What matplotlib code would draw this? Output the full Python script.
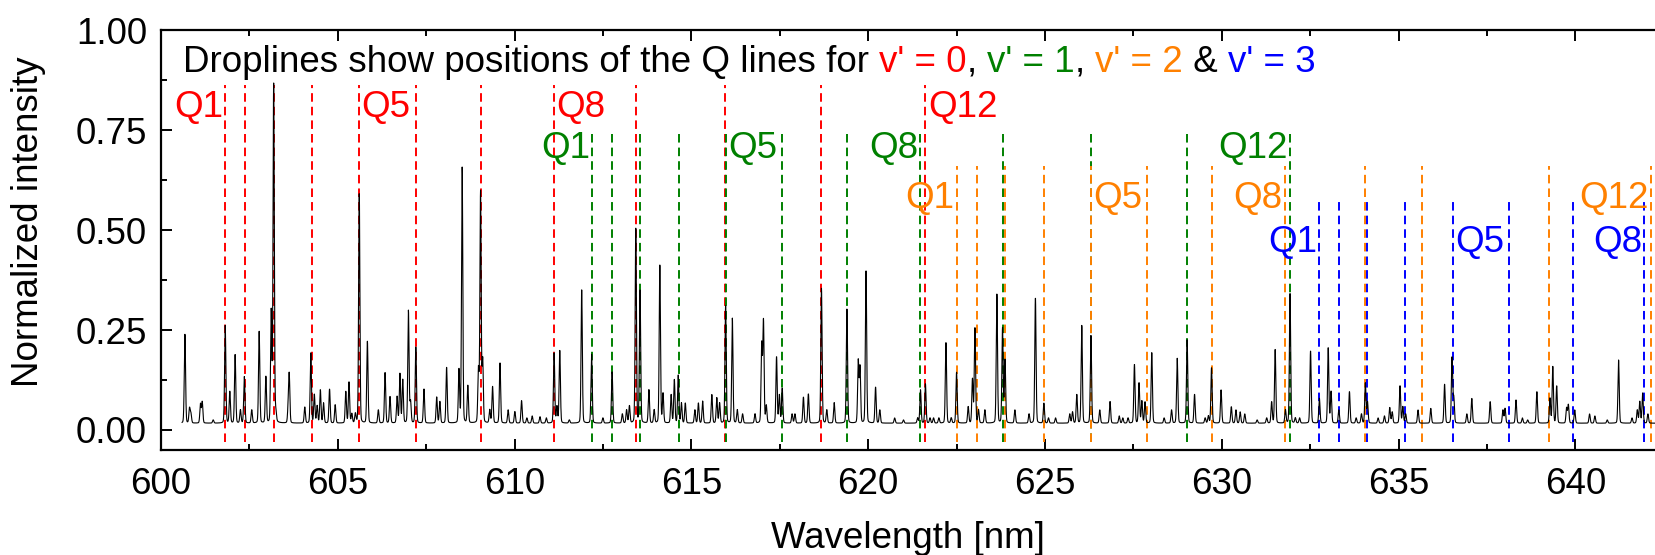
import numpy as np
import matplotlib
matplotlib.use('Agg')
import matplotlib.pyplot as plt
from matplotlib.ticker import MultipleLocator, FormatStrFormatter

plt.rcParams['font.family'] = ['Liberation Sans', 'DejaVu Sans']

# --- spectrum: peak positions [nm] and peak heights ---
peak_nm = [600.68, 600.81, 600.85, 601.12, 601.17, 601.48, 601.82, 601.95, 602.10, 602.25,
           602.36, 602.57, 602.78, 602.97, 603.12, 603.19, 603.25, 603.60, 603.63, 604.07,
           604.24, 604.34, 604.42, 604.51, 604.60, 604.77, 604.93, 605.23, 605.32, 605.40,
           605.50, 605.61, 605.84, 606.15, 606.34, 606.48, 606.68, 606.76, 606.84, 607.00,
           607.06, 607.21, 607.44, 607.80, 607.89, 608.08, 608.43, 608.52, 608.68, 608.98,
           609.04, 609.10, 609.30, 609.38, 609.59, 609.82, 610.01, 610.20, 610.35, 610.50,
           610.72, 610.90, 611.12, 611.20, 611.28, 611.55, 611.90, 612.18, 612.50, 612.76,
           613.05, 613.17, 613.25, 613.43, 613.55, 613.80, 613.95, 614.11, 614.20, 614.43,
           614.52, 614.63, 614.72, 614.83, 615.10, 615.20, 615.32, 615.58, 615.72, 615.80,
           615.97, 616.16, 616.30, 616.45, 616.80, 616.99, 617.04, 617.12, 617.41, 617.49,
           617.57, 617.85, 617.93, 618.17, 618.31, 618.68, 618.83, 619.04, 619.40, 619.72,
           619.77, 619.94, 620.21, 620.33, 620.75, 621.00, 621.40, 621.48, 621.62, 621.75,
           621.85, 622.00, 622.20, 622.35, 622.50, 622.83, 622.95, 623.02, 623.12, 623.30,
           623.64, 623.80, 623.87, 624.15, 624.55, 624.73, 624.97, 625.10, 625.30, 625.70,
           625.78, 625.90, 626.04, 626.30, 626.55, 626.84, 627.10, 627.20, 627.35, 627.53,
           627.66, 627.74, 627.83, 628.02, 628.37, 628.58, 628.74, 629.02, 629.23, 629.53,
           629.62, 629.71, 629.98, 630.27, 630.40, 630.52, 630.65, 631.00, 631.27, 631.41,
           631.51, 631.80, 631.93, 632.08, 632.20, 632.51, 632.76, 633.01, 633.09, 633.31,
           633.61, 633.80, 633.95, 634.06, 634.12, 634.42, 634.60, 634.75, 634.82, 635.04,
           635.12, 635.20, 635.55, 635.91, 636.30, 636.51, 636.56, 636.93, 637.07, 637.59,
           637.95, 638.01, 638.32, 638.50, 638.65, 638.91, 639.28, 639.36, 639.47, 639.75,
           639.80, 639.98, 640.40, 640.55, 640.90, 641.22, 641.60, 641.75, 641.82, 641.90,
           642.05]
peak_int = [0.239, 0.054, 0.040, 0.065, 0.070, 0.025, 0.261, 0.096, 0.188, 0.050,
            0.133, 0.050, 0.246, 0.133, 0.294, 0.869, 0.040, 0.050, 0.135, 0.057,
            0.192, 0.088, 0.060, 0.100, 0.067, 0.102, 0.063, 0.096, 0.119, 0.040,
            0.040, 0.594, 0.221, 0.050, 0.143, 0.083, 0.083, 0.140, 0.125, 0.298,
            0.070, 0.208, 0.102, 0.082, 0.071, 0.156, 0.150, 0.656, 0.110, 0.150,
            0.594, 0.172, 0.050, 0.108, 0.168, 0.050, 0.046, 0.073, 0.030, 0.035,
            0.033, 0.030, 0.192, 0.058, 0.198, 0.025, 0.350, 0.189, 0.030, 0.145,
            0.040, 0.050, 0.060, 0.506, 0.350, 0.100, 0.050, 0.414, 0.090, 0.088,
            0.125, 0.137, 0.067, 0.067, 0.050, 0.067, 0.072, 0.088, 0.080, 0.067,
            0.312, 0.279, 0.050, 0.040, 0.040, 0.212, 0.271, 0.060, 0.183, 0.087,
            0.104, 0.040, 0.040, 0.082, 0.090, 0.354, 0.050, 0.068, 0.302, 0.172,
            0.156, 0.397, 0.107, 0.050, 0.030, 0.025, 0.030, 0.100, 0.115, 0.030,
            0.030, 0.030, 0.218, 0.030, 0.144, 0.058, 0.127, 0.254, 0.050, 0.050,
            0.339, 0.254, 0.175, 0.050, 0.040, 0.331, 0.067, 0.030, 0.030, 0.040,
            0.045, 0.088, 0.261, 0.236, 0.050, 0.071, 0.035, 0.030, 0.030, 0.164,
            0.117, 0.072, 0.070, 0.193, 0.030, 0.050, 0.179, 0.225, 0.089, 0.030,
            0.035, 0.156, 0.100, 0.058, 0.050, 0.045, 0.040, 0.025, 0.030, 0.070,
            0.202, 0.050, 0.343, 0.030, 0.030, 0.198, 0.079, 0.206, 0.096, 0.050,
            0.096, 0.030, 0.040, 0.117, 0.070, 0.030, 0.035, 0.056, 0.045, 0.110,
            0.058, 0.040, 0.050, 0.054, 0.114, 0.181, 0.080, 0.040, 0.079, 0.071,
            0.050, 0.054, 0.075, 0.030, 0.025, 0.096, 0.079, 0.158, 0.110, 0.055,
            0.063, 0.050, 0.040, 0.035, 0.025, 0.175, 0.030, 0.050, 0.071, 0.092,
            0.040]
baseline = 0.017
line_sigma = 0.018   # nm, gaussian core
line_hwhm = 0.02     # nm, lorentzian wings
wing_frac = 0.15

# --- Q-line positions [nm] for each upper vibrational level ---
q_v0 = [601.82, 602.38, 603.19, 604.27, 605.61, 607.21, 609.04, 611.12, 613.43, 615.96, 618.68, 621.62]
q_v1 = [612.20, 612.75, 613.56, 614.65, 615.98, 617.57, 619.41, 621.48, 623.80, 626.30, 629.02, 631.94]
q_v2 = [622.51, 623.07, 623.87, 624.97, 626.30, 627.89, 629.72, 631.79, 634.06, 635.66, 639.26, 642.15]
q_v3 = [632.76, 633.31, 634.11, 635.19, 636.53, 638.11, 639.92, 641.95]
drop_top = [0.862, 0.752, 0.660, 0.571]
label_y = [0.807, 0.704, 0.578, 0.469]
colors = ['#ff0000', '#008000', '#ff8000', '#0000ff']
# which Q labels are shown, and on which side of the dropline
q_labels = [[(1, 'left'), (5, 'right'), (8, 'right'), (12, 'right')],
            [(1, 'left'), (5, 'right'), (8, 'left'), (12, 'left')],
            [(1, 'left'), (5, 'right'), (8, 'left'), (12, 'left')],
            [(1, 'left'), (5, 'right'), (8, 'left')]]

# build spectrum from the peak list
wl = np.arange(600.6, 642.4, 0.004)
spec = np.full_like(wl, baseline)
for x0, h in zip(peak_nm, peak_int):
    d = wl - x0
    shape = (1 - wing_frac) * np.exp(-d**2 / (2 * line_sigma**2)) \
        + wing_frac * line_hwhm**2 / (d**2 + line_hwhm**2)
    spec += (h - baseline) * shape

fs = 26.5
fig = plt.figure(figsize=(16.55, 5.55), dpi=100)
ax = fig.add_axes([0.0972, 0.1892, 0.9028, 0.7567])

ax.plot(wl, spec, color='black', lw=0.8, zorder=3)

for lines, top, ly, col, labs in zip([q_v0, q_v1, q_v2, q_v3], drop_top, label_y, colors, q_labels):
    for x in lines:
        ax.plot([x, x], [-0.03, top], color=col, lw=1.4, linestyle=(0, (4.4, 2.6)), zorder=2)
    for n, side in labs:
        x = lines[n - 1]
        if side == 'left':
            ax.text(x - 0.07, ly, 'Q%d' % n, color=col, fontsize=fs, ha='right', va='center')
        else:
            ax.text(x + 0.07, ly, 'Q%d' % n, color=col, fontsize=fs, ha='left', va='center')

# header with coloured parts
parts = [("Droplines show positions of the Q lines for ", 'black'),
         ("v' = 0", colors[0]), (", ", 'black'), ("v' = 1", colors[1]), (", ", 'black'),
         ("v' = 2", colors[2]), (" & ", 'black'), ("v' = 3", colors[3])]
t = ax.text(600.62, 0.919, parts[0][0], color=parts[0][1], fontsize=fs, ha='left', va='center')
for s, c in parts[1:]:
    t = ax.annotate(s, xy=(1, 0), xycoords=t, color=c, fontsize=fs, ha='left', va='bottom')

ax.set_xlim(600, 642.25)
ax.set_ylim(-0.05, 1.0)
ax.xaxis.set_major_locator(MultipleLocator(5))
ax.xaxis.set_minor_locator(MultipleLocator(2.5))
ax.yaxis.set_major_locator(MultipleLocator(0.25))
ax.yaxis.set_minor_locator(MultipleLocator(0.125))
ax.yaxis.set_major_formatter(FormatStrFormatter('%.2f'))
ax.tick_params(which='both', direction='in', top=True, right=False, labelsize=fs, width=1.4)
ax.tick_params(which='major', length=8, pad=12)
ax.tick_params(which='minor', length=4)
ax.tick_params(axis='y', pad=10)
for sp in ['left', 'bottom', 'top']:
    ax.spines[sp].set_linewidth(1.6)
ax.spines['right'].set_visible(False)

ax.set_xlabel('Wavelength [nm]', fontsize=fs, labelpad=14)
ax.set_ylabel('Normalized intensity', fontsize=fs)
ax.yaxis.set_label_coords(-0.077, 0.543)

fig.savefig('out.png', dpi=100)
